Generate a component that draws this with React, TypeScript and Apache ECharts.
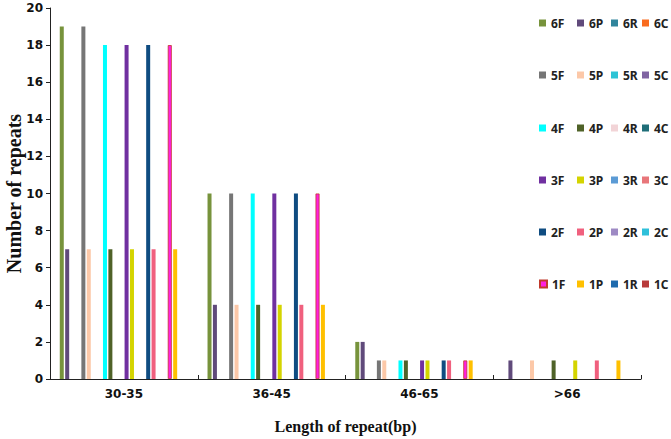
import React, { useEffect, useRef } from "react";
import * as echarts from "echarts";

const categories = ["30-35", "36-45", "46-65", ">66"];

const seriesNames = [
  "6F", "6P", "6R", "6C",
  "5F", "5P", "5R", "5C",
  "4F", "4P", "4R", "4C",
  "3F", "3P", "3R", "3C",
  "2F", "2P", "2R", "2C",
  "1F", "1P", "1R", "1C",
];

const values6F = [19, 10, 2, 0];
const values6P = [7, 4, 2, 1];
const values6R = [0, 0, 0, 0];
const values6C = [0, 0, 0, 0];
const values5F = [19, 10, 1, 0];
const values5P = [7, 4, 1, 1];
const values5R = [0, 0, 0, 0];
const values5C = [0, 0, 0, 0];
const values4F = [18, 10, 1, 0];
const values4P = [7, 4, 1, 1];
const values4R = [0, 0, 0, 0];
const values4C = [0, 0, 0, 0];
const values3F = [18, 10, 1, 0];
const values3P = [7, 4, 1, 1];
const values3R = [0, 0, 0, 0];
const values3C = [0, 0, 0, 0];
const values2F = [18, 10, 1, 0];
const values2P = [7, 4, 1, 1];
const values2R = [0, 0, 0, 0];
const values2C = [0, 0, 0, 0];
const values1F = [18, 10, 1, 0];
const values1P = [7, 4, 1, 1];
const values1R = [0, 0, 0, 0];
const values1C = [0, 0, 0, 0];

const seriesValues = [
  values6F, values6P, values6R, values6C,
  values5F, values5P, values5R, values5C,
  values4F, values4P, values4R, values4C,
  values3F, values3P, values3R, values3C,
  values2F, values2P, values2R, values2C,
  values1F, values1P, values1R, values1C,
];

const seriesColors = [
  "#77933C", "#604A7B", "#31859C", "#F96B1E",
  "#767676", "#FCC8A8", "#2EC4D6", "#8064A2",
  "#00FFFF", "#4F6228", "#F2D4D7", "#1F6E78",
  "#7030A0", "#D4D400", "#5B9BD5", "#E8767A",
  "#0F4C81", "#F0607E", "#9E8AC4", "#2FC0DA",
  "#FF20E0", "#FFC000", "#1F6BAE", "#B83A3A",
];

const legendColLeft = [539, 577, 611, 642];
const legendRowTop = [16, 68, 121, 173, 225, 277];

export default function App() {
  const ref = useRef<HTMLDivElement>(null);

  useEffect(() => {
    if (!ref.current) return;
    const chart = echarts.init(ref.current, undefined, { renderer: "svg" });
    const labelFont = {
      fontFamily: "DejaVu Sans",
      fontWeight: "bold" as const,
      fontSize: 12,
      color: "#111",
    };
    const option: any = {
      animation: false,
      backgroundColor: "#ffffff",
      grid: {
        left: 50,
        right: 30,
        top: 8,
        bottom: 60,
        containLabel: false,
        outerBoundsMode: "none",
      },
      legend: seriesNames.map((name, i) => ({
        data: [name],
        left: legendColLeft[i % 4],
        top: legendRowTop[Math.floor(i / 4)],
        padding: 0,
        itemWidth: 7,
        itemHeight: 7,
        icon: "rect",
        selectedMode: false,
        textStyle: {
          fontFamily: "Noto Sans",
          fontWeight: "bold",
          fontSize: 12,
          color: "#222",
          lineHeight: 14,
        },
      })),
      xAxis: {
        type: "category",
        data: categories,
        axisLine: { show: true, lineStyle: { color: "#222", width: 1 } },
        axisTick: { show: true, inside: true, length: 4, lineStyle: { color: "#222" } },
        axisLabel: { ...labelFont, margin: 9 },
        splitLine: { show: false },
        name: "Length of repeat(bp)",
        nameLocation: "middle",
        nameGap: 39,
        nameMoveOverlap: false,
        nameTextStyle: {
          fontFamily: "Liberation Serif",
          fontWeight: "bold",
          fontSize: 16,
          color: "#111",
        },
      },
      yAxis: {
        type: "value",
        min: 0,
        max: 20,
        interval: 2,
        axisLine: { show: true, lineStyle: { color: "#222", width: 1 } },
        axisTick: { show: true, inside: false, length: 4, lineStyle: { color: "#222" } },
        axisLabel: { ...labelFont, margin: 7 },
        splitLine: { show: false },
        name: "Number of repeats",
        nameLocation: "middle",
        nameRotate: 90,
        nameGap: 26,
        nameMoveOverlap: false,
        nameTextStyle: {
          fontFamily: "Liberation Serif",
          fontWeight: "bold",
          fontSize: 20,
          color: "#111",
        },
      },
      series: seriesNames.map((name, i) => ({
        name,
        type: "bar",
        data: seriesValues[i].map((v) =>
          v > 0 ? v : { value: v, itemStyle: { borderWidth: 0 } }
        ),
        barWidth: 4,
        barGap: "35%",
        itemStyle:
          name === "1F"
            ? { color: seriesColors[i], borderColor: "#C0392B", borderWidth: 0.8 }
            : { color: seriesColors[i] },
      })),
    };
    chart.setOption(option);
    return () => chart.dispose();
  }, []);

  return (
    <div
      ref={ref}
      style={{ position: "fixed", left: 0, top: 0, width: 671, height: 439 }}
    />
  );
}
